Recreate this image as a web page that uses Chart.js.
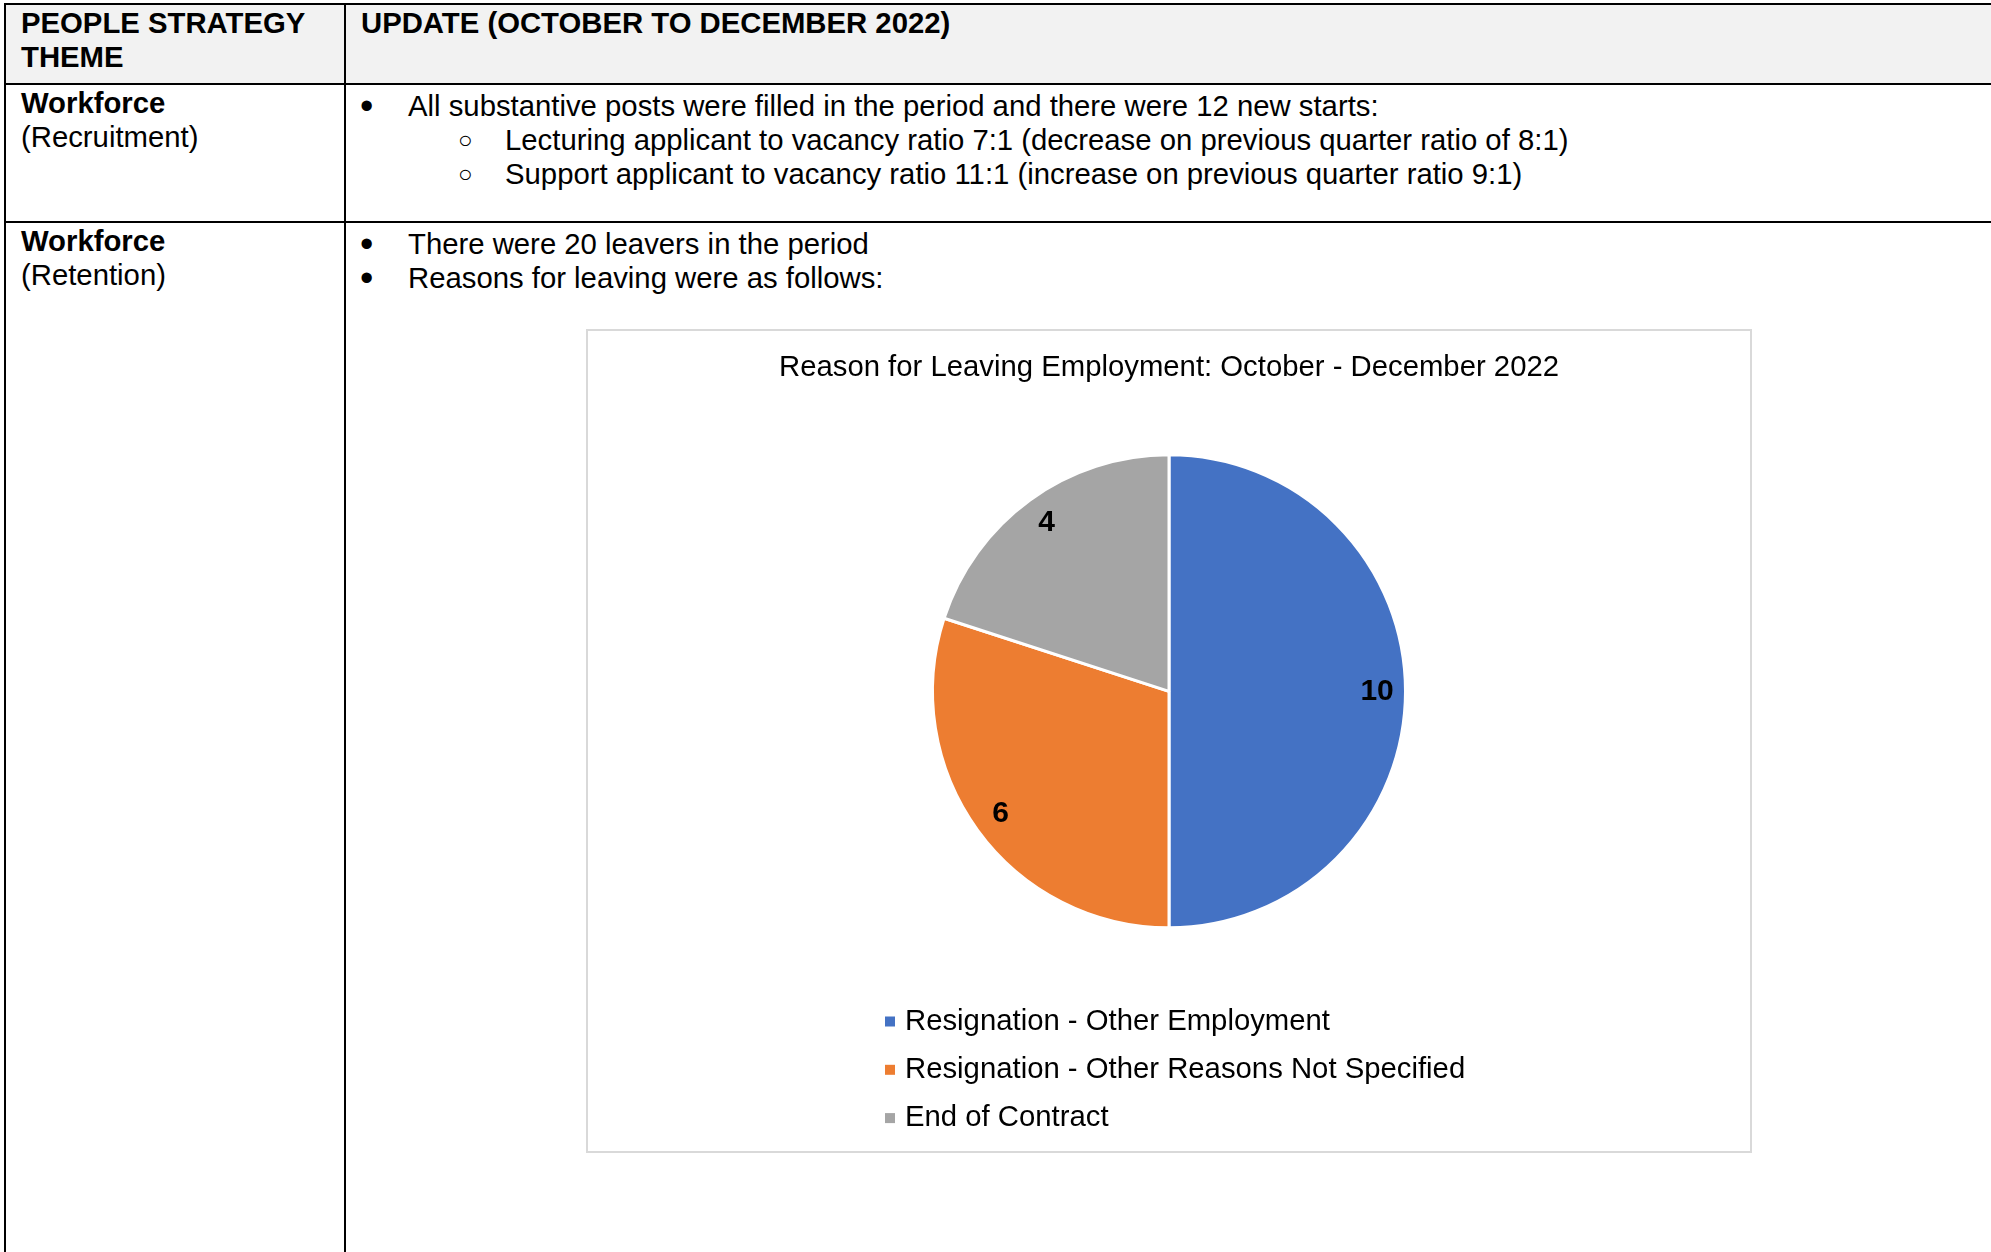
<!DOCTYPE html>
<html>
<head>
<meta charset="utf-8">
<title>People strategy update</title>
<script src="https://cdn.jsdelivr.net/npm/chart.js@4.4.1/dist/chart.umd.min.js"></script>
<style>
  html, body { margin: 0; padding: 0; background: #fff; }
  body {
    width: 1991px; height: 1252px; position: relative; overflow: hidden;
    font-family: "Liberation Sans", Arial, sans-serif; font-size: 29.3px; line-height: 34.3px; color: #000;
  }
  .rule { position: absolute; background: #000; }
  .txt { position: absolute; white-space: nowrap; }
  .bul { position: absolute; white-space: nowrap; font-size: 38px; }
  .sub { position: absolute; white-space: nowrap; font-size: 24px; }
  #head-bg { position: absolute; left: 6px; top: 5px; width: 1985px; height: 78px; background: #f2f2f2; }
  #chart-box {
    position: absolute; left: 586px; top: 329px; width: 1162px; height: 820px;
    border: 2px solid #d9d9d9; background: #fff;
  }
</style>
</head>
<body>
<div id="head-bg"></div>

<!-- table rules -->
<div class="rule" style="left:4px; top:3px; width:1987px; height:2px;"></div>
<div class="rule" style="left:4px; top:83px; width:1987px; height:2px;"></div>
<div class="rule" style="left:4px; top:221px; width:1987px; height:2px;"></div>
<div class="rule" style="left:4px; top:3px; width:2px; height:1249px;"></div>
<div class="rule" style="left:344px; top:3px; width:2px; height:1249px;"></div>

<!-- header row -->
<div class="txt" style="left:21px; top:6px; font-weight:bold;">PEOPLE STRATEGY<br>THEME</div>
<div class="txt" style="left:361px; top:6px; font-weight:bold;">UPDATE (OCTOBER TO DECEMBER 2022)</div>

<!-- recruitment row -->
<div class="txt" style="left:21px; top:86px;"><b>Workforce</b><br>(Recruitment)</div>
<div class="bul" style="left:360px; top:88.5px;">&bull;</div>
<div class="txt" style="left:408px; top:88.5px;">All substantive posts were filled in the period and there were 12 new starts:</div>
<div class="sub" style="left:458px; top:122.8px;">&#9675;</div>
<div class="txt" style="left:505px; top:122.8px;">Lecturing applicant to vacancy ratio 7:1 (decrease on previous quarter ratio of 8:1)</div>
<div class="sub" style="left:458px; top:157.1px;">&#9675;</div>
<div class="txt" style="left:505px; top:157.1px;">Support applicant to vacancy ratio 11:1 (increase on previous quarter ratio 9:1)</div>

<!-- retention row -->
<div class="txt" style="left:21px; top:224px;"><b>Workforce</b><br>(Retention)</div>
<div class="bul" style="left:360px; top:226.5px;">&bull;</div>
<div class="txt" style="left:408px; top:226.5px;">There were 20 leavers in the period</div>
<div class="bul" style="left:360px; top:260.8px;">&bull;</div>
<div class="txt" style="left:408px; top:260.8px;">Reasons for leaving were as follows:</div>

<div id="chart-box">
  <div style="position:relative; width:1162px; height:820px;">
    <canvas id="leavers"></canvas>
  </div>
</div>

<script>
var chartTitle = 'Reason for Leaving Employment: October - December 2022';
var reasonLabels = [
  'Resignation - Other Employment',
  'Resignation - Other Reasons Not Specified',
  'End of Contract'
];
var leaverCounts = [10, 6, 4];
var sliceColours = ['#4472C4', '#ED7D31', '#A5A5A5'];

var FONT = '"Liberation Sans", Arial, sans-serif';
Chart.defaults.font.family = FONT;
Chart.defaults.color = '#000';

// value labels sitting near the rim of each slice
var sliceLabels = {
  id: 'sliceLabels',
  afterDatasetsDraw: function(chart) {
    var ctx = chart.ctx;
    var meta = chart.getDatasetMeta(0);
    var values = chart.data.datasets[0].data;
    ctx.save();
    ctx.font = 'bold 30px ' + FONT;
    ctx.fillStyle = '#000';
    ctx.textAlign = 'center';
    ctx.textBaseline = 'middle';
    meta.data.forEach(function(arc, i) {
      var p = arc.getProps(['x', 'y', 'startAngle', 'endAngle', 'outerRadius'], true);
      var mid = (p.startAngle + p.endAngle) / 2;
      var r = p.outerRadius * 0.88;
      ctx.fillText(String(values[i]), p.x + Math.cos(mid) * r, p.y + Math.sin(mid) * r);
    });
    ctx.restore();
  }
};

// one legend entry per line, left aligned, block centred under the pie
var stackedLegend = {
  id: 'stackedLegend',
  afterDraw: function(chart) {
    var ctx = chart.ctx;
    var labels = chart.data.labels;
    var colours = chart.data.datasets[0].backgroundColor;
    var area = chart.chartArea;
    ctx.save();
    ctx.font = '29.3px ' + FONT;
    var maxW = 0;
    labels.forEach(function(l) { maxW = Math.max(maxW, ctx.measureText(l).width); });
    var cx = (area.left + area.right) / 2;
    var left = Math.round(cx - (20 + maxW) / 2) + 6;
    var y0 = area.bottom + 96;
    ctx.textBaseline = 'middle';
    ctx.textAlign = 'left';
    labels.forEach(function(l, i) {
      var y = y0 + i * 48.3;
      ctx.fillStyle = colours[i];
      ctx.fillRect(left, y - 5, 10, 10);
      ctx.fillStyle = '#000';
      ctx.fillText(l, left + 20, y);
    });
    ctx.restore();
  }
};

new Chart(document.getElementById('leavers'), {
  type: 'pie',
  data: {
    labels: reasonLabels,
    datasets: [{
      data: leaverCounts,
      backgroundColor: sliceColours,
      borderColor: '#ffffff',
      borderWidth: 3,
      radius: 236.5
    }]
  },
  options: {
    responsive: true,
    maintainAspectRatio: false,
    animation: false,
    layout: { padding: { top: 0, bottom: 225.5, left: 0, right: 0 } },
    plugins: {
      legend: { display: false },
      tooltip: { enabled: false },
      title: {
        display: true,
        text: chartTitle,
        color: '#000',
        font: { size: 29.3, weight: 'normal', family: FONT },
        padding: { top: 19, bottom: 72 }
      }
    }
  },
  plugins: [sliceLabels, stackedLegend]
});
</script>
</body>
</html>
